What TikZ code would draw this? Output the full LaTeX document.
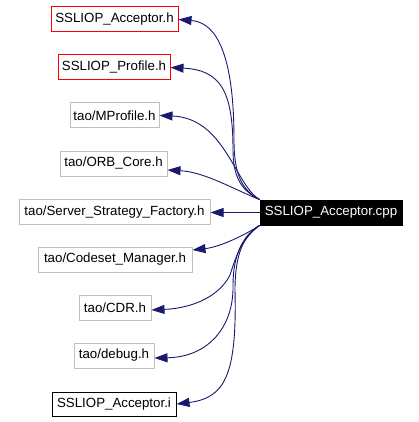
\documentclass[tikz,border=0pt]{standalone}
\usepackage{fontspec}
\setmainfont{Liberation Sans}
\usetikzlibrary{arrows.meta}
\definecolor{edgeblue}{HTML}{191970}
\definecolor{boxgray}{HTML}{BFBFBF}
\begin{document}
\begin{tikzpicture}[x=1pt,y=-1pt,
  file/.style={draw, line width=1pt, minimum height=25pt, inner sep=0pt,
    font=\fontsize{13.3}{16}\selectfont, anchor=center},
  grayfile/.style={file, draw=boxgray},
  redfile/.style={file, draw=red},
  blackfile/.style={file, draw=black},
  mainfile/.style={file, fill=black, draw=black, text=white},
  dep/.style={draw=edgeblue, line width=0.9pt, -{Triangle[length=13pt,width=9pt]}}]
\useasboundingbox (0,0) rectangle (419,422);
\node[redfile, minimum width=127pt] (ah) at (114.5,19.5) {SSLIOP\_Acceptor.h};
\node[redfile, minimum width=112pt] (pr) at (114,67.5) {SSLIOP\_Profile.h};
\node[grayfile, minimum width=89pt] (mp) at (114.5,115.5) {tao/MProfile.h};
\node[grayfile, minimum width=107pt] (orb) at (113.5,163.5) {tao/ORB\_Core.h};
\node[grayfile, minimum width=191pt] (ssf) at (114.5,212) {tao/Server\_Strategy\_Factory.h};
\node[grayfile, minimum width=154pt] (cs) at (115,259.5) {tao/Codeset\_Manager.h};
\node[grayfile, minimum width=72pt] (cdr) at (115,307.5) {tao/CDR.h};
\node[grayfile, minimum width=80pt] (dbg) at (114,355.5) {tao/debug.h};
\node[blackfile, minimum width=124pt, minimum height=24pt] (ai) at (114,404) {SSLIOP\_Acceptor.i};
\node[mainfile, minimum width=142pt] (cpp) at (331,212.5) {SSLIOP\_Acceptor.cpp};

\draw[dep] (cpp.north west) .. controls (242,190) and (234,175) .. (234,140)
  .. controls (234,40) and (210,22) .. (ah.east);
\draw[dep] (cpp.north west) .. controls (240,190) and (233,175) .. (233,150)
  .. controls (233,90) and (220,70) .. (pr.east);
\draw[dep] (cpp.north west) .. controls (235,185) and (225,118) .. (mp.east);
\draw[dep] (cpp.north west) .. controls (235,190) and (205,172) .. ([yshift=-6.5pt]orb.east);
\draw[dep] (cpp.west) -- (cpp.west -| ssf.east);
\draw[dep] (cpp.south west) .. controls (245,235) and (220,247) .. ([yshift=9.5pt]cs.east);
\draw[dep] (cpp.south west) .. controls (240,240) and (235,260) .. (230,275)
  .. controls (220,295) and (195,308) .. ([yshift=-2.5pt]cdr.east);
\draw[dep] (cpp.south west) .. controls (243,235) and (233,255) .. (233,285)
  .. controls (234,325) and (210,357) .. ([yshift=-2.5pt]dbg.east);
\draw[dep] (cpp.south west) .. controls (243,236) and (235,255) .. (235,290)
  .. controls (237,375) and (225,398) .. (ai.east);
\end{tikzpicture}
\end{document}
